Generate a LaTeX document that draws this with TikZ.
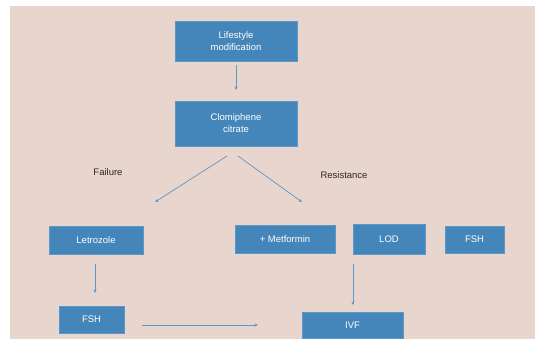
\documentclass[tikz,border=0pt]{standalone}
\usepackage{fontspec}
\setmainfont{Liberation Sans}
\usetikzlibrary{arrows.meta}
\definecolor{pagebg}{RGB}{232,213,206}
\definecolor{boxblue}{RGB}{68,134,186}
\definecolor{edgeblue}{RGB}{92,152,200}
\definecolor{lineblue}{RGB}{96,150,196}
\definecolor{labelgray}{RGB}{45,40,40}
\tikzset{
  tbox/.style={outer sep=0, inner sep=0, draw=edgeblue, line width=0.6pt, fill=boxblue, text=white, align=center, font=\fontsize{9.5}{12}\selectfont},
  arr/.style={draw=lineblue, line width=0.7pt, -{Stealth[length=3.5pt,width=3pt]}},
  lbl/.style={text=labelgray, font=\fontsize{9.5}{12}\selectfont}
}
\begin{document}
\begin{tikzpicture}[x=1pt, y=-1pt]
      \useasboundingbox (0,0) rectangle (535,339);
      \fill[white] (0,0) rectangle (535,339);
      \fill[pagebg] (10,6) rectangle (535,339);

      \node [tbox, minimum width=122pt, minimum height=40pt] (life-mod) at (236,41) {Lifestyle\\modification};

      \node [tbox, minimum width=122pt, minimum height=45pt] (clomi-c) at (236,123.5) {Clomiphene\\citrate};

      \node [tbox, minimum width=94pt, minimum height=28pt] (letro) at (96,240) {Letrozole};

      \node [tbox, minimum width=100pt, minimum height=28pt] (metf) at (285,239) {+ Metformin};

      \node [tbox, minimum width=72pt, minimum height=30pt] (lod) at (389,239) {LOD};

      \node [tbox, minimum width=59pt, minimum height=27pt] (fsh-r) at (474.5,239.5) {FSH};

      \node [tbox, minimum width=65pt, minimum height=27pt] (fsh-l) at (91.5,319.5) {FSH};

      \node [tbox, minimum width=101pt, minimum height=26pt] (ivf) at (352.5,325) {IVF};

      \node [lbl] (fail) at (108,172) {Failure};
      \node [lbl] (resist) at (344,175) {Resistance};

      \coordinate (fail-end) at (155,202);
      \coordinate (resist-end) at (302,202);

      \draw [arr] ([yshift=-4pt]life-mod.south) -- ([yshift=11pt]clomi-c.north);
      \draw [arr] ([xshift=-9pt, yshift=-10pt]clomi-c.south) -- (fail-end);
      \draw [arr] ([xshift=2pt, yshift=-10pt]clomi-c.south) -- (resist-end);
      \draw [arr] ([xshift=-1pt, yshift=-10pt]letro.south) -- ([xshift=-1pt, yshift=13pt]letro.south |- fsh-l.north);
      \draw [arr] ([xshift=18pt, yshift=-5.5pt]fsh-l.east) -- ([xshift=-44pt]ivf.west);
      \draw [arr] ([yshift=-10pt]lod.south west) -- ([yshift=7pt]lod.south west |- ivf.north);
    \end{tikzpicture}
\end{document}
